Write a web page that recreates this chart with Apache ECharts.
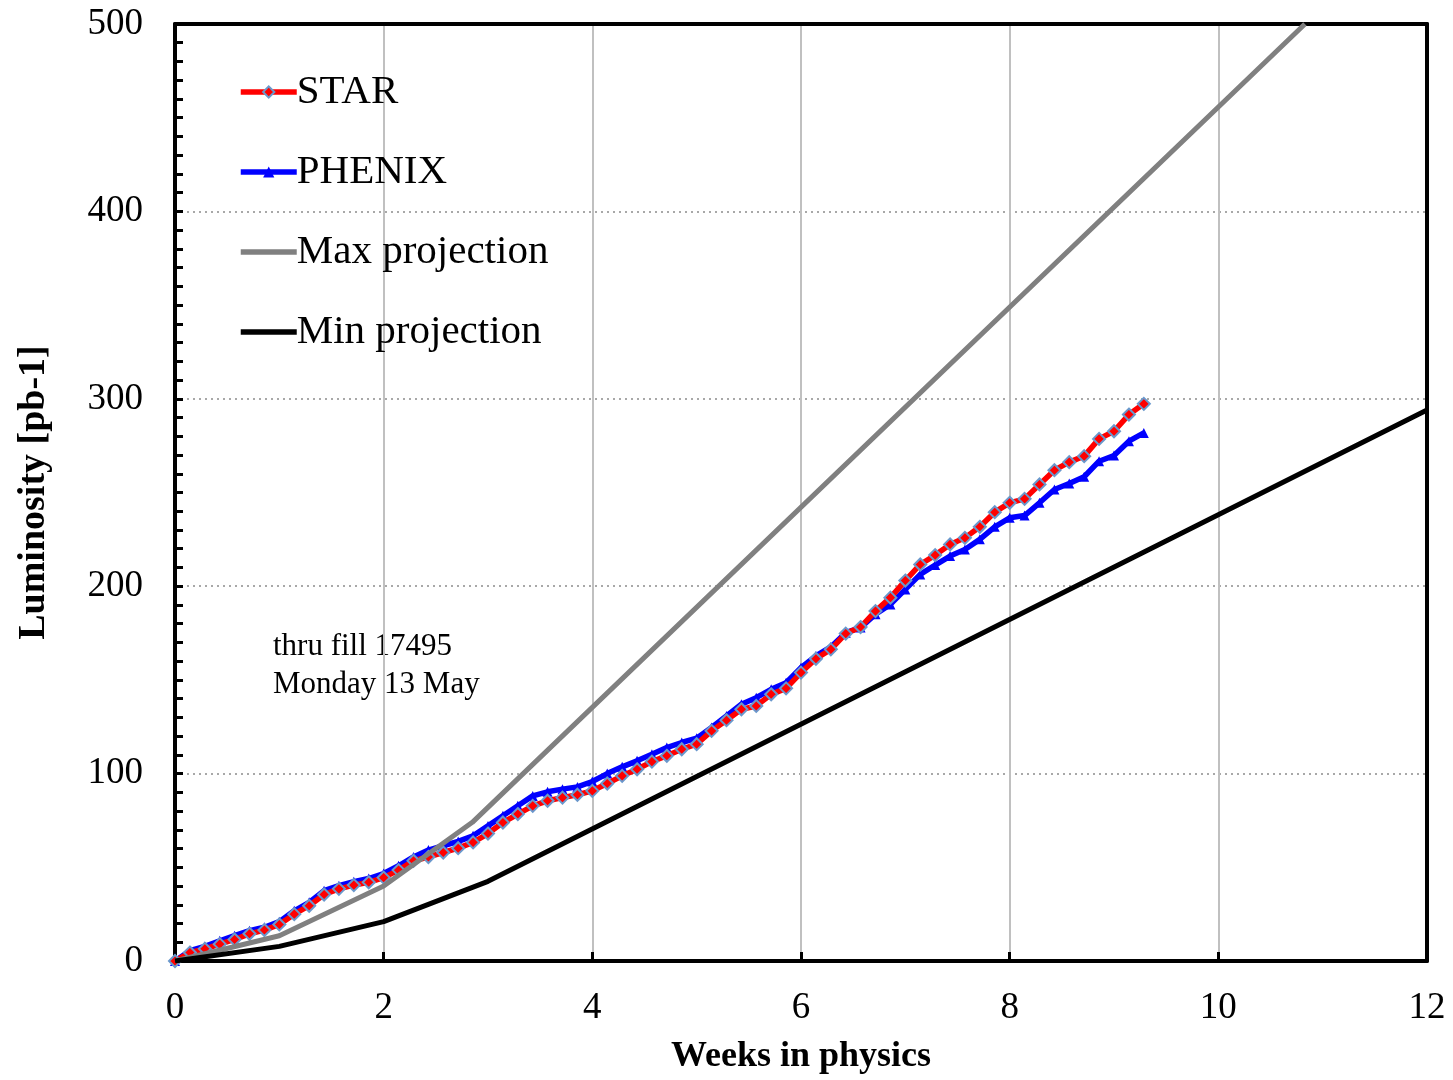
<!DOCTYPE html>
<html>
<head>
<meta charset="utf-8">
<script src="https://cdn.jsdelivr.net/npm/echarts@6/dist/echarts.min.js"></script>
<style>
html,body{margin:0;padding:0;background:#fff;}
#chart{width:1453px;height:1080px;}
</style>
</head>
<body>
<div id="chart"></div>
<script>
// Weeks in physics (one point per day)
var weeks = [0, 0.143, 0.286, 0.429, 0.571, 0.714, 0.857, 1, 1.143, 1.286, 1.429, 1.571, 1.714, 1.857, 2, 2.143, 2.286, 2.429, 2.571, 2.714, 2.857, 3, 3.143, 3.286, 3.429, 3.571, 3.714, 3.857, 4, 4.143, 4.286, 4.429, 4.571, 4.714, 4.857, 5, 5.143, 5.286, 5.429, 5.571, 5.714, 5.857, 6, 6.143, 6.286, 6.429, 6.571, 6.714, 6.857, 7, 7.143, 7.286, 7.429, 7.571, 7.714, 7.857, 8, 8.143, 8.286, 8.429, 8.571, 8.714, 8.857, 9, 9.143, 9.286];
var star = [0, 4.5, 6.5, 9, 11.5, 14.5, 16.5, 19.5, 25, 29.5, 35.5, 38.5, 40.5, 42, 44.5, 48.5, 53.5, 55.5, 57.9, 60.2, 63.3, 68, 73.9, 78.4, 82.8, 85.5, 87.2, 88.7, 90.8, 94.7, 98.8, 102.3, 106.4, 109.5, 113, 115.7, 122.8, 128.5, 134.3, 136.1, 142.3, 145.5, 153.9, 161.3, 166.3, 174.7, 178.2, 186.7, 193.9, 203, 211.6, 216.6, 222.3, 225.8, 231.7, 239.5, 244.5, 246.6, 254.3, 261.9, 266.2, 269.4, 278.6, 282.7, 291.6, 297.3];
var phenix = [0, 5.5, 7.8, 10.8, 13.5, 16.2, 18, 21, 26.8, 31.3, 37.5, 40.2, 42.3, 44, 46.7, 50.8, 55.5, 59.2, 61.5, 63.8, 66.8, 72.1, 77.5, 82.8, 88.1, 90.3, 91.7, 92.9, 95.8, 100, 103.6, 106.8, 110.3, 113.9, 116.6, 118.9, 124.6, 130.8, 137, 140.5, 145, 148.5, 156.5, 162.8, 167.6, 175.2, 177.9, 185, 190.3, 198.3, 206.3, 211.3, 216.1, 219.6, 225, 231.7, 236.5, 237.7, 244.5, 251.6, 254.8, 258.4, 266.7, 269.7, 277.4, 281.8];
var maxWeeks = [0, 1, 2, 2.85, 10.83];
var maxVals = [0, 13.5, 40, 74, 500];
var minWeeks = [0, 1, 2, 3, 12];
var minVals = [0, 7.8, 21, 42.5, 294];
var annotation = ['thru fill 17495', 'Monday 13 May'];

function pairs(xs, ys){ return xs.map(function(x,i){ return [x, ys[i]]; }); }

var FONT = '"Liberation Serif", "Times New Roman", serif';
var chart = echarts.init(document.getElementById('chart'), null, {renderer:'canvas'});
chart.setOption({
  animation: false,
  backgroundColor: '#ffffff',
  grid: {left:175, right:26, top:24, bottom:118, show:false},
  legend: {
    orient:'vertical', left:233, top:66,
    itemWidth:56, itemHeight:14, itemGap:38,
    textStyle:{fontFamily:FONT, fontSize:41, color:'#000', lineHeight:42, padding:[0,0,0,-5]},
    data:[
      {name:'STAR', lineStyle:{width:5.5}},
      {name:'PHENIX', lineStyle:{width:5.5}},
      {name:'Max projection', lineStyle:{width:5.5}, itemStyle:{opacity:0}},
      {name:'Min projection', lineStyle:{width:5.5}, itemStyle:{opacity:0}}
    ]
  },
  xAxis: [{
    type:'value', min:0, max:12, interval:2, position:'bottom',
    name:'Weeks in physics', nameLocation:'middle', nameGap:78,
    nameTextStyle:{fontFamily:FONT, fontSize:36, fontWeight:'bold', color:'#000'},
    axisLine:{show:true, onZero:false, lineStyle:{color:'#000', width:4}},
    axisTick:{show:true, inside:true, length:9, lineStyle:{color:'#000', width:3}},
    axisLabel:{fontFamily:FONT, fontSize:37, color:'#000', margin:29},
    splitLine:{show:true, showMinLine:false, showMaxLine:false, lineStyle:{color:'#c0c0c0', width:2, type:'solid'}}
  },{
    type:'value', min:0, max:12, position:'top',
    axisLine:{show:true, onZero:false, lineStyle:{color:'#000', width:4}},
    axisTick:{show:false}, axisLabel:{show:false}, splitLine:{show:false}
  }],
  yAxis: [{
    type:'value', min:0, max:500, interval:100, position:'left',
    name:'Luminosity [pb-1]', nameLocation:'middle', nameGap:122,
    nameTextStyle:{fontFamily:FONT, fontSize:38, fontWeight:'bold', color:'#000'},
    axisLine:{show:true, onZero:false, lineStyle:{color:'#000', width:4}},
    axisTick:{show:true, inside:true, length:8, lineStyle:{color:'#000', width:3}},
    minorTick:{show:true, splitNumber:10, length:8, lineStyle:{color:'#000', width:3}},
    axisLabel:{fontFamily:FONT, fontSize:37, color:'#000', margin:32},
    splitLine:{show:true, showMinLine:false, showMaxLine:false, lineStyle:{color:'#a8a8a8', width:2, type:[2,4]}}
  },{
    type:'value', min:0, max:500, position:'right',
    axisLine:{show:true, onZero:false, lineStyle:{color:'#000', width:4}},
    axisTick:{show:false}, axisLabel:{show:false}, splitLine:{show:false}
  }],
  graphic: [
    {type:'text', left:273, top:628, style:{text:annotation.join('\n'), fontFamily:FONT, fontSize:31, lineHeight:38, fill:'#000'}}
  ],
  series: [
    {name:'PHENIX', type:'line', data:pairs(weeks, phenix), z:2,
     symbol:'triangle', symbolSize:10, showAllSymbol:true,
     itemStyle:{color:'#0000ff'}, lineStyle:{color:'#0000ff', width:5.5}},
    {name:'STAR', type:'line', data:pairs(weeks, star), z:3,
     symbol:'diamond', symbolSize:12, showAllSymbol:true,
     itemStyle:{color:'#ff0000', borderColor:'#6a98cc', borderWidth:2}, lineStyle:{color:'#ff0000', width:5.5}},
    {name:'Max projection', type:'line', data:pairs(maxWeeks, maxVals), z:4,
     symbol:'none', itemStyle:{color:'#808080'}, lineStyle:{color:'#808080', width:5}},
    {name:'Min projection', type:'line', data:pairs(minWeeks, minVals), z:4,
     symbol:'none', itemStyle:{color:'#000000'}, lineStyle:{color:'#000000', width:5}}
  ]
});
</script>
</body>
</html>
